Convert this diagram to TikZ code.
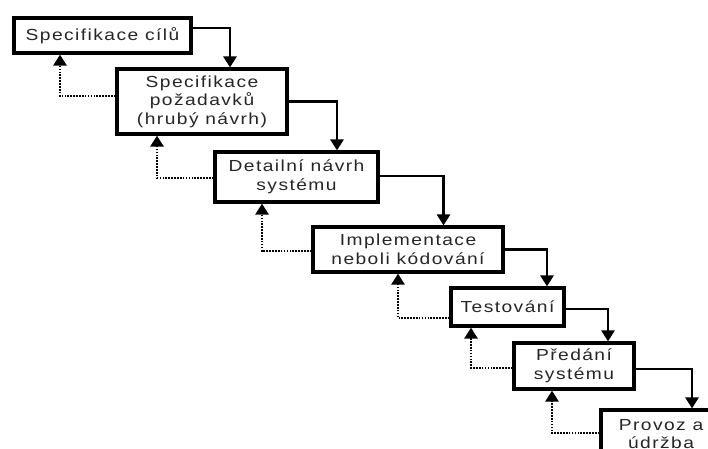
\documentclass[tikz,border=0pt]{standalone}
\usepackage{fontspec}
\setmainfont{Liberation Sans}[LetterSpace=9, FakeStretch=1.2]
\usetikzlibrary{arrows.meta}
\begin{document}
\begin{tikzpicture}[x=1pt,y=-1pt,
  phase/.style={draw, line width=3.2pt, fill=white, inner sep=0pt, align=center,
    text=black!85, font=\fontsize{16}{18.5}\selectfont},
  flow/.style={line width=2.8pt, -{Triangle[width=13pt,length=11pt]}},
  back/.style={line width=2.6pt, dash pattern=on 1.6pt off 1.3pt,
    -{Triangle[width=13pt,length=11pt]}}]
\useasboundingbox (0,0) rectangle (708,448);
\clip (0,0) rectangle (708,448);

% waterfall phases
\node[phase, minimum width=177pt, minimum height=35pt] (b1) at (102.5,35.5) {Specifikace cílů};
\node[phase, minimum width=170pt, minimum height=65pt] (b2) at (202,101.5) {Specifikace\\požadavků\\(hrubý návrh)};
\node[phase, minimum width=163pt, minimum height=50pt] (b3) at (296.5,177) {Detailní návrh\\systému};
\node[phase, minimum width=190pt, minimum height=45pt] (b4) at (408,249.5) {Implementace\\neboli kódování};
\node[phase, minimum width=113pt, minimum height=38pt] (b5) at (507.5,307) {Testování};
\node[phase, minimum width=120pt, minimum height=46pt] (b6) at (574,366) {Předání\\systému};
\node[phase, minimum width=120pt, minimum height=48pt] (b7) at (661,434) {Provoz a\\údržba};

% forward flow
\draw[flow] ([yshift=7.5pt]b1.east) -| ([xshift=28pt]b2.north);
\draw[flow] (b2.east) -| ([xshift=40.5pt]b3.north);
\draw[flow] ([yshift=1pt]b3.east) -| ([xshift=35.5pt]b4.north);
\draw[flow] (b4.east) -| ([xshift=39.5pt]b5.north);
\draw[flow] ([yshift=-2pt]b5.east) -| ([xshift=34pt]b6.north);
\draw[flow] ([yshift=-3pt]b6.east) -| ([xshift=31pt]b7.north);

% feedback to the previous phase
\draw[back] ([yshift=5.5pt]b2.west) -| ([xshift=-42.5pt]b1.south);
\draw[back] ([yshift=-1pt]b3.west) -| ([xshift=-45pt]b2.south);
\draw[back] ([yshift=-1.5pt]b4.west) -| ([xshift=-34.5pt]b3.south);
\draw[back] ([yshift=-11pt]b5.west) -| ([xshift=-10pt]b4.south);
\draw[back] ([yshift=-2pt]b6.west) -| ([xshift=-36.5pt]b5.south);
\draw[back] ([yshift=1pt]b7.west) -| ([xshift=-22pt]b6.south);
\end{tikzpicture}
\end{document}
